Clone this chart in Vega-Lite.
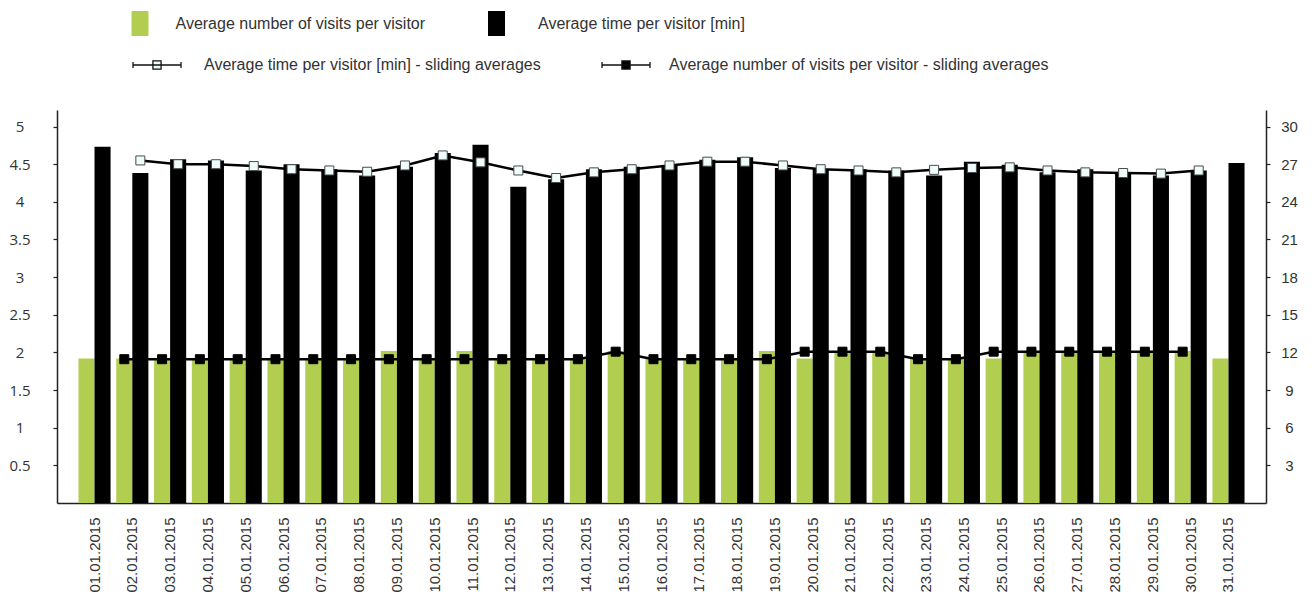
{
  "$schema": "https://vega.github.io/schema/vega-lite/v6.json",
  "width": 1209,
  "height": 393,
  "autosize": {"type": "none"},
  "padding": {"left": 57, "top": 110, "right": 49, "bottom": 98},
  "background": "white",
  "config": {"view": {"stroke": null}, "axis": {"grid": false},
    "legend": {"labelFont": "Liberation Sans", "labelFontSize": 16, "labelColor": "#333", "labelLimit": 500}},
  "data": {"values": [
    {"date": "01.01.2015", "visits": 1.92, "time": 28.4, "visits_avg": null, "time_avg": null},
    {"date": "02.01.2015", "visits": 1.92, "time": 26.3, "visits_avg": 1.91, "time_avg": 27.3},
    {"date": "03.01.2015", "visits": 1.92, "time": 27.4, "visits_avg": 1.91, "time_avg": 27.0},
    {"date": "04.01.2015", "visits": 1.92, "time": 27.3, "visits_avg": 1.91, "time_avg": 27.0},
    {"date": "05.01.2015", "visits": 1.92, "time": 26.5, "visits_avg": 1.91, "time_avg": 26.85},
    {"date": "06.01.2015", "visits": 1.92, "time": 27.0, "visits_avg": 1.91, "time_avg": 26.6},
    {"date": "07.01.2015", "visits": 1.92, "time": 26.6, "visits_avg": 1.91, "time_avg": 26.5},
    {"date": "08.01.2015", "visits": 1.92, "time": 26.1, "visits_avg": 1.91, "time_avg": 26.4},
    {"date": "09.01.2015", "visits": 2.02, "time": 26.8, "visits_avg": 1.91, "time_avg": 26.9},
    {"date": "10.01.2015", "visits": 1.92, "time": 27.9, "visits_avg": 1.91, "time_avg": 27.7},
    {"date": "11.01.2015", "visits": 2.02, "time": 28.55, "visits_avg": 1.91, "time_avg": 27.15},
    {"date": "12.01.2015", "visits": 1.92, "time": 25.2, "visits_avg": 1.91, "time_avg": 26.5},
    {"date": "13.01.2015", "visits": 1.92, "time": 25.8, "visits_avg": 1.91, "time_avg": 25.9},
    {"date": "14.01.2015", "visits": 1.92, "time": 26.6, "visits_avg": 1.91, "time_avg": 26.35},
    {"date": "15.01.2015", "visits": 2.02, "time": 26.8, "visits_avg": 2.01, "time_avg": 26.6},
    {"date": "16.01.2015", "visits": 1.92, "time": 26.9, "visits_avg": 1.91, "time_avg": 26.9},
    {"date": "17.01.2015", "visits": 1.92, "time": 27.35, "visits_avg": 1.91, "time_avg": 27.2},
    {"date": "18.01.2015", "visits": 1.92, "time": 27.55, "visits_avg": 1.91, "time_avg": 27.2},
    {"date": "19.01.2015", "visits": 2.02, "time": 26.7, "visits_avg": 1.91, "time_avg": 26.9},
    {"date": "20.01.2015", "visits": 1.92, "time": 26.6, "visits_avg": 2.01, "time_avg": 26.6},
    {"date": "21.01.2015", "visits": 2.0, "time": 26.6, "visits_avg": 2.01, "time_avg": 26.5},
    {"date": "22.01.2015", "visits": 2.0, "time": 26.5, "visits_avg": 2.01, "time_avg": 26.35},
    {"date": "23.01.2015", "visits": 1.92, "time": 26.1, "visits_avg": 1.91, "time_avg": 26.55},
    {"date": "24.01.2015", "visits": 1.92, "time": 27.2, "visits_avg": 1.91, "time_avg": 26.7},
    {"date": "25.01.2015", "visits": 1.92, "time": 26.95, "visits_avg": 2.01, "time_avg": 26.75},
    {"date": "26.01.2015", "visits": 2.0, "time": 26.35, "visits_avg": 2.01, "time_avg": 26.5},
    {"date": "27.01.2015", "visits": 2.0, "time": 26.6, "visits_avg": 2.01, "time_avg": 26.35},
    {"date": "28.01.2015", "visits": 2.0, "time": 26.35, "visits_avg": 2.01, "time_avg": 26.3},
    {"date": "29.01.2015", "visits": 2.0, "time": 26.1, "visits_avg": 2.01, "time_avg": 26.25},
    {"date": "30.01.2015", "visits": 2.02, "time": 26.5, "visits_avg": 2.01, "time_avg": 26.5},
    {"date": "31.01.2015", "visits": 1.92, "time": 27.1, "visits_avg": null, "time_avg": null}
  ]},
  "layer": [
    {
      "mark": {"type": "bar"},
      "encoding": {
        "x": {"field": "date", "type": "nominal", "sort": null,
          "scale": {"paddingInner": 0.15, "paddingOuter": 0.5676},
          "axis": {"title": null, "labelAngle": -90, "ticks": false, "labelPadding": 14,
            "labelFont": "Liberation Sans", "labelFontSize": 15, "labelColor": "#333",
            "domainColor": "#222", "domainWidth": 1.5}},
        "xOffset": {"datum": "a", "scale": {"domain": ["a", "b"], "paddingInner": 0, "paddingOuter": 0}},
        "y": {"field": "visits", "type": "quantitative",
          "scale": {"domain": [0, 5.22], "nice": false, "zero": true},
          "axis": {"title": null, "orient": "left", "values": [0.5, 1, 1.5, 2, 2.5, 3, 3.5, 4, 4.5, 5], "format": "~g",
            "labelAlign": "center", "labelPadding": 33.5, "tickSize": 4, "tickColor": "#222", "tickWidth": 1.2,
            "domainColor": "#222", "domainWidth": 1.5,
            "labelFont": "Open Sans", "labelFontSize": 15, "labelColor": "#333"}},
        "color": {"datum": "Average number of visits per visitor", "scale": {"range": ["#b2ce51"]},
          "legend": {"orient": "none", "legendX": 70.5, "legendY": -99, "title": null, "padding": 0,
            "symbolType": "M-0.68,-1H0.68V1H-0.68Z", "symbolSize": 625, "symbolStrokeWidth": 0,
            "labelFont": "Liberation Sans", "labelFontSize": 16, "labelColor": "#333", "labelOffset": 23, "labelLimit": 500}}
      }
    },
    {
      "mark": {"type": "bar"},
      "encoding": {
        "x": {"field": "date", "type": "nominal", "sort": null},
        "xOffset": {"datum": "b"},
        "y": {"field": "time", "type": "quantitative",
          "scale": {"domain": [0, 31.32], "nice": false, "zero": true},
          "axis": {"title": null, "orient": "right", "values": [3, 6, 9, 12, 15, 18, 21, 24, 27, 30],
            "labelAlign": "center", "labelPadding": 19, "tickSize": 4, "tickColor": "#222", "tickWidth": 1.2,
            "domainColor": "#222", "domainWidth": 1.5,
            "labelFont": "Liberation Sans", "labelFontSize": 15, "labelColor": "#333"}},
        "color": {"datum": "Average time per visitor [min]", "scale": {"range": ["#000000"]},
          "legend": {"orient": "none", "legendX": 427, "legendY": -99, "title": null, "padding": 0,
            "symbolType": "M-0.68,-1H0.68V1H-0.68Z", "symbolSize": 625, "symbolStrokeWidth": 0,
            "labelFont": "Liberation Sans", "labelFontSize": 16, "labelColor": "#333", "labelOffset": 29, "labelLimit": 500}}
      }
    },
    {
      "mark": {"type": "line", "color": "#000000", "strokeWidth": 2.5},
      "encoding": {
        "x": {"field": "date", "type": "nominal", "sort": null, "bandPosition": 0.75},
        "y": {"field": "time_avg", "type": "quantitative",
          "scale": {"domain": [0, 31.32], "nice": false, "zero": true}, "axis": null}
      }
    },
    {
      "mark": {"type": "line", "color": "#000000", "strokeWidth": 2.5},
      "encoding": {
        "x": {"field": "date", "type": "nominal", "sort": null, "bandPosition": 0.25},
        "y": {"field": "visits_avg", "type": "quantitative",
          "scale": {"domain": [0, 5.22], "nice": false, "zero": true}, "axis": null}
      }
    },
    {
      "mark": {"type": "point", "shape": "square", "filled": true, "size": 81, "opacity": 1, "stroke": "#4a4a4a", "strokeWidth": 1},
      "encoding": {
        "x": {"field": "date", "type": "nominal", "sort": null, "bandPosition": 0.75},
        "y": {"field": "time_avg", "type": "quantitative",
          "scale": {"domain": [0, 31.32], "nice": false, "zero": true}, "axis": null},
        "color": {"datum": "Average time per visitor [min] - sliding averages", "scale": {"range": ["#effcfc"]},
          "legend": {"orient": "none", "legendX": 75, "legendY": -70, "title": null, "padding": 0,
            "symbolType": "M-1,0H1M-1,-0.125V0.125M1,-0.125V0.125M-0.17,-0.17H0.17V0.17H-0.17Z", "symbolSize": 2304,
            "symbolOpacity": 1, "symbolStrokeColor": "#111", "symbolStrokeWidth": 1.3,
            "labelFont": "Liberation Sans", "labelFontSize": 16, "labelColor": "#333", "labelOffset": 22, "labelLimit": 500,
            "encode": {"symbols": {"update": {"stroke": {"value": "#111"}, "strokeWidth": {"value": 1.3}}}}}}
      }
    },
    {
      "mark": {"type": "point", "shape": "square", "filled": true, "size": 81, "opacity": 1, "stroke": "#000000", "strokeWidth": 1},
      "encoding": {
        "x": {"field": "date", "type": "nominal", "sort": null, "bandPosition": 0.25},
        "y": {"field": "visits_avg", "type": "quantitative",
          "scale": {"domain": [0, 5.22], "nice": false, "zero": true}, "axis": null},
        "color": {"datum": "Average number of visits per visitor - sliding averages", "scale": {"range": ["#000000"]},
          "legend": {"orient": "none", "legendX": 544, "legendY": -70, "title": null, "padding": 0,
            "symbolType": "M-1,0H1M-1,-0.125V0.125M1,-0.125V0.125M-0.17,-0.17H0.17V0.17H-0.17Z", "symbolSize": 2304,
            "symbolOpacity": 1, "symbolStrokeColor": "#111", "symbolStrokeWidth": 1.3,
            "labelFont": "Liberation Sans", "labelFontSize": 16, "labelColor": "#333", "labelOffset": 18, "labelLimit": 500,
            "encode": {"symbols": {"update": {"stroke": {"value": "#111"}, "strokeWidth": {"value": 1.3}}}}}}
      }
    }
  ],
  "resolve": {"scale": {"y": "independent", "color": "independent"}}
}
